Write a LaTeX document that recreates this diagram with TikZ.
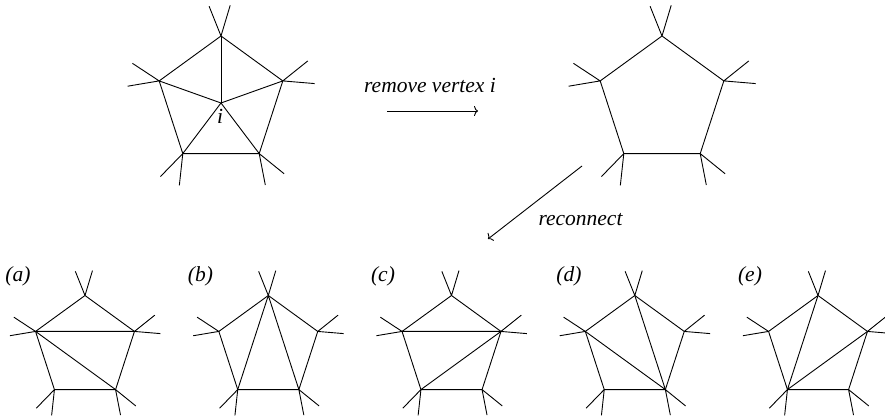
\documentclass[tikz,border=0pt]{standalone}
\usepackage{fontspec}
\setmainfont{Liberation Serif}
\usetikzlibrary{arrows.meta, positioning, calc}

% pentagon with two stubs at every corner: #1 name, #2 centre, #3 radius, #4 stub length
\newcommand{\stubpentagon}[4]{%
  \foreach \v/\a/\sa/\sb in {t/90/111.8/73.3, ul/162/146.7/189.5,
      ll/234/225.8/263.8, lr/306/321/281, ur/18/38.7/355.2} {
    \coordinate (#1-\v) at ($#2+(\a:#3)$);
    \draw (#1-\v) -- ++(\sa:#4) (#1-\v) -- ++(\sb:#4);
  }
  \draw (#1-t) -- (#1-ul) -- (#1-ll) -- (#1-lr) -- (#1-ur) -- cycle;
}

\begin{document}
\begin{tikzpicture}[
      x=1pt, y=1pt, line width=0.9pt,
      lbl/.style={font=\fontsize{21.5}{24}\selectfont\itshape, inner sep=0pt, anchor=base},
      >={To[length=4pt,width=10pt]}
    ]
      \useasboundingbox (0,0) rectangle (885,418);

      % before: vertex i in the middle
      \stubpentagon{p0}{(221,317)}{65}{32}
      \coordinate (vi) at (221,315);
      \foreach \v in {t,ul,ll,lr,ur}
        \draw (vi) -- (p0-\v);
      \node[lbl] (ilabel) at (220,294) {i};

      % after removal
      \stubpentagon{hole}{(662,317)}{65}{32}

      \coordinate (rm-a) at (387,307);
      \coordinate (rm-b) at (478,307);
      \draw[->] (rm-a) -- (rm-b);
      \node[lbl] (rmtext) at (430,325.3) {remove vertex i};

      \coordinate (rc-a) at (582,252);
      \coordinate (rc-b) at (488,179);
      \draw[->] (rc-a) -- (rc-b);
      \node[lbl] (rctext) at (580.5,193) {reconnect};

      % the five ways to fill the hole
      \stubpentagon{pa}{(85,70.5)}{52}{26}
      \draw (pa-ul) -- (pa-ur) (pa-ul) -- (pa-lr);
      \node[lbl] (la) at (18,136.5) {(a)};

      \stubpentagon{pb}{(268.3,70.5)}{52}{26}
      \draw (pb-t) -- (pb-ll) (pb-t) -- (pb-lr);
      \node[lbl] (lb) at (200.5,136.5) {(b)};

      \stubpentagon{pc}{(451.5,70.5)}{52}{26}
      \draw (pc-ul) -- (pc-ur) (pc-ur) -- (pc-ll);
      \node[lbl] (lc) at (383,136.5) {(c)};

      \stubpentagon{pd}{(634.8,70.5)}{52}{26}
      \draw (pd-ul) -- (pd-lr) (pd-t) -- (pd-lr);
      \node[lbl] (ld) at (569,136.5) {(d)};

      \stubpentagon{pe}{(818,70.5)}{52}{26}
      \draw (pe-t) -- (pe-ll) (pe-ur) -- (pe-ll);
      \node[lbl] (le) at (750,136.5) {(e)};
    \end{tikzpicture}
\end{document}
